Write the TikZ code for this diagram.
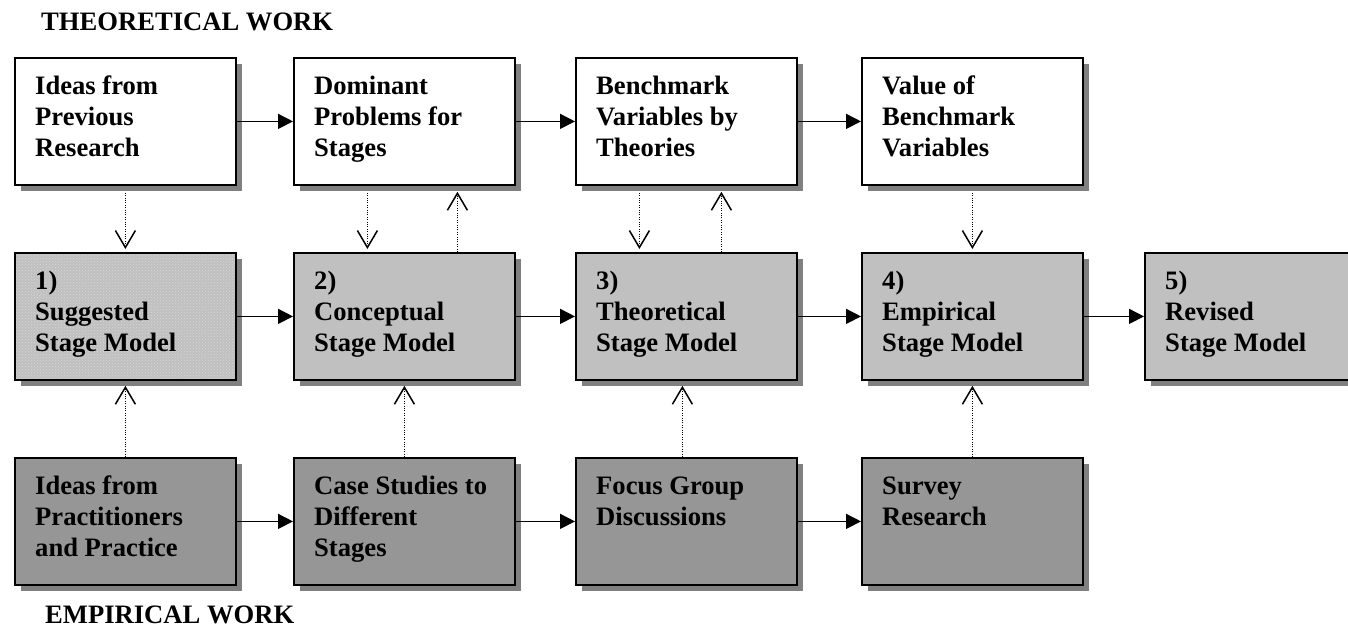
\documentclass[tikz,border=0pt]{standalone}
\usepackage{fontspec}
\setmainfont{Liberation Serif}
\usetikzlibrary{arrows.meta,shadows,patterns}
\definecolor{rowtwo}{HTML}{C0C0C0}
\definecolor{rowthree}{HTML}{969696}
\definecolor{shade}{HTML}{808080}
\definecolor{dotgray}{HTML}{D6D6D6}
\begin{document}
\begin{tikzpicture}[x=1pt,y=-1pt,
  box/.style={rectangle, draw=black, line width=1.8pt, anchor=north west,
    minimum width=221pt, minimum height=127pt, inner sep=0pt,
    general shadow={fill=shade, shadow xshift=6pt, shadow yshift=-6pt}},
  theory/.style={box, fill=white},
  stage/.style={box, fill=rowtwo},
  dotted stage/.style={box, preaction={fill=rowtwo}, pattern=crosshatch dots, pattern color=dotgray},
  empir/.style={box, fill=rowthree},
  txt/.style={font=\fontsize{26.6}{31}\selectfont\bfseries, align=left, anchor=north west, inner sep=0pt},
  title/.style={font=\fontsize{26.6}{31}\selectfont\bfseries, anchor=base west, inner sep=0pt},
  harrow/.style={line width=1.5pt, -{Triangle[length=15pt,width=15pt]}},
  darrow/.style={line width=1.3pt, dash pattern=on 1pt off 1.4pt,
    -{Straight Barb[length=17pt,width=20pt,line width=1.5pt]}}
]
\useasboundingbox (0,0) rectangle (1348,629);

% titles
\node[title] (tt) at (41,30) {THEORETICAL WORK};
\node[title] (te) at (45,623) {EMPIRICAL WORK};

% row 1
\node[theory] (a1) at (14,57) {};
\node[theory] (a2) at (293,57) {};
\node[theory] (a3) at (575,57) {};
\node[theory] (a4) at (861,57) {};
% row 2
\node[dotted stage] (b1) at (14,252) {};
\node[stage] (b2) at (293,252) {};
\node[stage] (b3) at (575,252) {};
\node[stage] (b4) at (861,252) {};
\node[stage] (b5) at (1144,252) {};
% row 3
\node[empir] (c1) at (14,457) {};
\node[empir] (c2) at (293,457) {};
\node[empir] (c3) at (575,457) {};
\node[empir] (c4) at (861,457) {};

% texts
\node[txt] (ta1) at ([shift={(21,15.3)}]a1.north west) {\strut Ideas from\\Previous\\Research};
\node[txt] (ta2) at ([shift={(21,15.3)}]a2.north west) {\strut Dominant\\Problems for\\Stages};
\node[txt] (ta3) at ([shift={(21,15.3)}]a3.north west) {\strut Benchmark\\Variables by\\Theories};
\node[txt] (ta4) at ([shift={(21,15.3)}]a4.north west) {\strut Value of\\Benchmark\\Variables};
\node[txt] (tb1) at ([shift={(21,16)}]b1.north west) {\strut 1)\\Suggested\\Stage Model};
\node[txt] (tb2) at ([shift={(21,16)}]b2.north west) {\strut 2)\\Conceptual\\Stage Model};
\node[txt] (tb3) at ([shift={(21,16)}]b3.north west) {\strut 3)\\Theoretical\\Stage Model};
\node[txt] (tb4) at ([shift={(21,16)}]b4.north west) {\strut 4)\\Empirical\\Stage Model};
\node[txt] (tb5) at ([shift={(21,16)}]b5.north west) {\strut 5)\\Revised\\Stage Model};
\node[txt] (tc1) at ([shift={(21,15.3)}]c1.north west) {\strut Ideas from\\Practitioners\\and Practice};
\node[txt] (tc2) at ([shift={(21,15.3)}]c2.north west) {\strut Case Studies to\\Different\\Stages};
\node[txt] (tc3) at ([shift={(21,15.3)}]c3.north west) {\strut Focus Group\\Discussions};
\node[txt] (tc4) at ([shift={(21,15.3)}]c4.north west) {\strut Survey\\Research};

% horizontal arrows
\draw[harrow] (a1.east) -- (a2.west);
\draw[harrow] (a2.east) -- (a3.west);
\draw[harrow] (a3.east) -- (a4.west);
\draw[harrow] (b1.east) -- (b2.west);
\draw[harrow] (b2.east) -- (b3.west);
\draw[harrow] (b3.east) -- (b4.west);
\draw[harrow] (b4.east) -- (b5.west);
\draw[harrow] (c1.east) -- (c2.west);
\draw[harrow] (c2.east) -- (c3.west);
\draw[harrow] (c3.east) -- (c4.west);

% dotted arrows theory -> stage
\draw[darrow] ([yshift=-7pt]a1.south) -- ([yshift=3pt]b1.north);
\draw[darrow] ([xshift=-37pt,yshift=-7pt]a2.south) -- ([xshift=-37pt,yshift=3pt]b2.north);
\draw[darrow] ([xshift=-47pt,yshift=-7pt]a3.south) -- ([xshift=-47pt,yshift=3pt]b3.north);
\draw[darrow] ([yshift=-7pt]a4.south) -- ([yshift=3pt]b4.north);
% dotted arrows stage -> theory
\draw[darrow] ([xshift=53pt]b2.north) -- ([xshift=53pt,yshift=-6pt]a2.south);
\draw[darrow] ([xshift=35pt]b3.north) -- ([xshift=35pt,yshift=-6pt]a3.south);
% dotted arrows empirical -> stage
\draw[darrow] (c1.north) -- ([yshift=-5pt]b1.south);
\draw[darrow] (c2.north) -- ([yshift=-5pt]b2.south);
\draw[darrow] ([xshift=-4pt]c3.north) -- ([xshift=-4pt,yshift=-5pt]b3.south);
\draw[darrow] (c4.north) -- ([yshift=-5pt]b4.south);
\end{tikzpicture}
\end{document}
